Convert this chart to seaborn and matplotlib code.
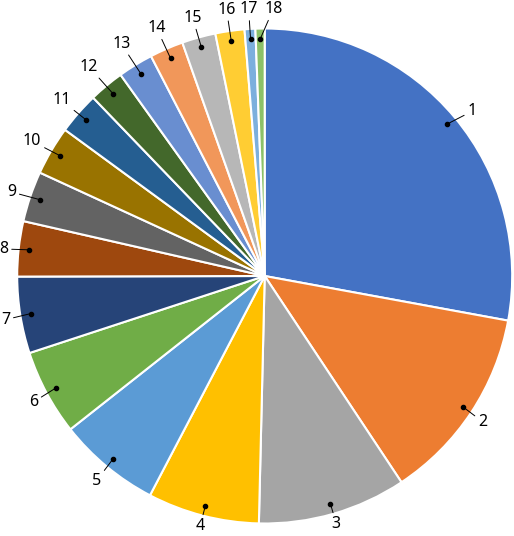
import matplotlib.pyplot as plt
import seaborn as sns
import numpy as np

# slice labels and shares (percent)
labels = [str(i) for i in range(1, 19)]
shares = [27.9, 12.8, 9.7, 7.3, 6.7, 5.6, 5.0, 3.6, 3.3, 3.2,
          2.75, 2.3, 2.3, 2.2, 2.2, 1.9, 0.7, 0.6]

# Excel office palette
colors = ['#4472C4', '#ED7D31', '#A5A5A5', '#FFC000', '#5B9BD5', '#70AD47',
          '#264478', '#9E480E', '#636363', '#997300', '#255E91', '#43682B',
          '#698ED0', '#F1975A', '#B7B7B7', '#FFCD33', '#7CAFDD', '#8CC168']

# label layout (radius as fraction of pie radius, clockwise nudge in degrees)
LABEL_R = [1.075, 1.055, 1.043, 1.043, 1.065, 1.06, 1.06, 1.06, 1.08, 1.09,
           1.09, 1.11, 1.11, 1.10, 1.09, 1.095, 1.087, 1.087]
LABEL_NUDGE = {0: 1.0, 17: 2.9}
DOT_R = 0.958

sns.set_theme(style="white")
plt.rcParams['font.family'] = ['Noto Sans', 'DejaVu Sans']

W, H = 514, 536
CX, CY, R = 264.7, H - 276, 247.5

fig = plt.figure(figsize=(W / 100, H / 100), dpi=100)
ax = fig.add_axes([0, 0, 1, 1])

wedges, _ = ax.pie(
    shares,
    colors=sns.color_palette(colors),
    startangle=90,
    counterclock=False,
    center=(CX, CY),
    radius=R,
    wedgeprops=dict(edgecolor='white', linewidth=1.5),
)
ax.set_xlim(0, W)
ax.set_ylim(0, H)
ax.axis('off')

for i, w in enumerate(wedges):
    mid = np.deg2rad((w.theta1 + w.theta2) / 2)
    dx, dy = CX + DOT_R * R * np.cos(mid), CY + DOT_R * R * np.sin(mid)
    lab_ang = mid - np.deg2rad(LABEL_NUDGE.get(i, 0.0))
    lx = CX + LABEL_R[i] * R * np.cos(lab_ang)
    ly = CY + LABEL_R[i] * R * np.sin(lab_ang)
    if i not in (2, 3):
        ly -= 2
    ax.plot(dx, dy, 'o', color='black', markersize=3, zorder=5)
    ax.annotate(labels[i], xy=(dx, dy), xytext=(lx, ly),
                ha='center', va='center', fontsize=11.5, color='black',
                arrowprops=dict(arrowstyle='-', color='black', lw=0.7,
                                shrinkA=0, shrinkB=0))

fig.savefig('out.png', dpi=100, facecolor='white')
